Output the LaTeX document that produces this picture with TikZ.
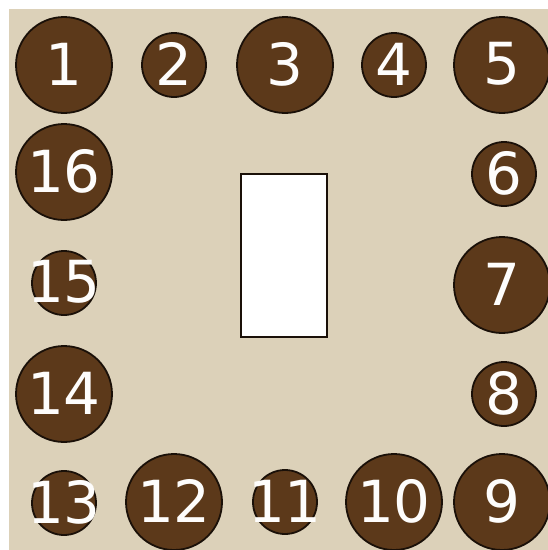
\documentclass[tikz,border=0pt]{standalone}
\usepackage{fontspec}
\setmainfont{DejaVu Sans}
\usepackage{xcolor}
\definecolor{parchment}{HTML}{DCD1B9}
\definecolor{walnut}{HTML}{5C391A}
\definecolor{rim}{HTML}{1A1008}

\begin{document}
\begin{tikzpicture}[x=1pt,y=-1pt,
  seat/.style={circle,fill=walnut,draw=rim,line width=1.8pt,inner sep=0pt},
  bigseat/.style={seat,minimum size=96pt},
  smallseat/.style={seat,minimum size=64pt},
  num/.style={text=white!96!parchment,font=\fontsize{58}{58}\selectfont,inner sep=0pt}]
\useasboundingbox (0,0) rectangle (548,550);
\fill[white] (0,0) rectangle (548,550);
\fill[parchment] (9,9) rectangle (548,550);
% top row
\node[bigseat] (s1) at (64,65) {};
\node[num] at ([yshift=1pt]s1.center) {1};
\node[smallseat] (s2) at (174,65) {};
\node[num] at ([yshift=1pt]s2.center) {2};
\node[bigseat] (s3) at (285,65) {};
\node[num] at ([yshift=1pt]s3.center) {3};
\node[smallseat] (s4) at (394,65) {};
\node[num] at ([yshift=1pt]s4.center) {4};
\node[bigseat] (s5) at (502,65) {};
\node[num] at ([yshift=1pt]s5.center) {5};
% right column
\node[smallseat] (s6) at (504,174) {};
\node[num] at ([yshift=1pt]s6.center) {6};
\node[bigseat] (s7) at (502,285) {};
\node[num] at ([yshift=1pt]s7.center) {7};
\node[smallseat] (s8) at (504,394) {};
\node[num] at ([yshift=1pt]s8.center) {8};
% bottom row
\node[bigseat] (s9) at (502,502) {};
\node[num] at ([yshift=1pt]s9.center) {9};
\node[bigseat] (s10) at (394,502) {};
\node[num] at ([yshift=1pt]s10.center) {10};
\node[smallseat] (s11) at (285,502) {};
\node[num] at ([yshift=1pt]s11.center) {11};
\node[bigseat] (s12) at (174,502) {};
\node[num] at ([yshift=1pt]s12.center) {12};
\node[smallseat] (s13) at (64,503) {};
\node[num] at ([yshift=1pt]s13.center) {13};
% left column
\node[bigseat] (s14) at (64,394) {};
\node[num] at ([yshift=1pt]s14.center) {14};
\node[smallseat] (s15) at (64,283) {};
\node[num] at ([yshift=1pt]s15.center) {15};
\node[bigseat] (s16) at (64,172) {};
\node[num] at ([yshift=1pt]s16.center) {16};
% table
\node[draw=rim,fill=white,line width=1.8pt,minimum width=86pt,minimum height=163pt,inner sep=0pt] (board) at (284,255.5) {};
\end{tikzpicture}
\end{document}
